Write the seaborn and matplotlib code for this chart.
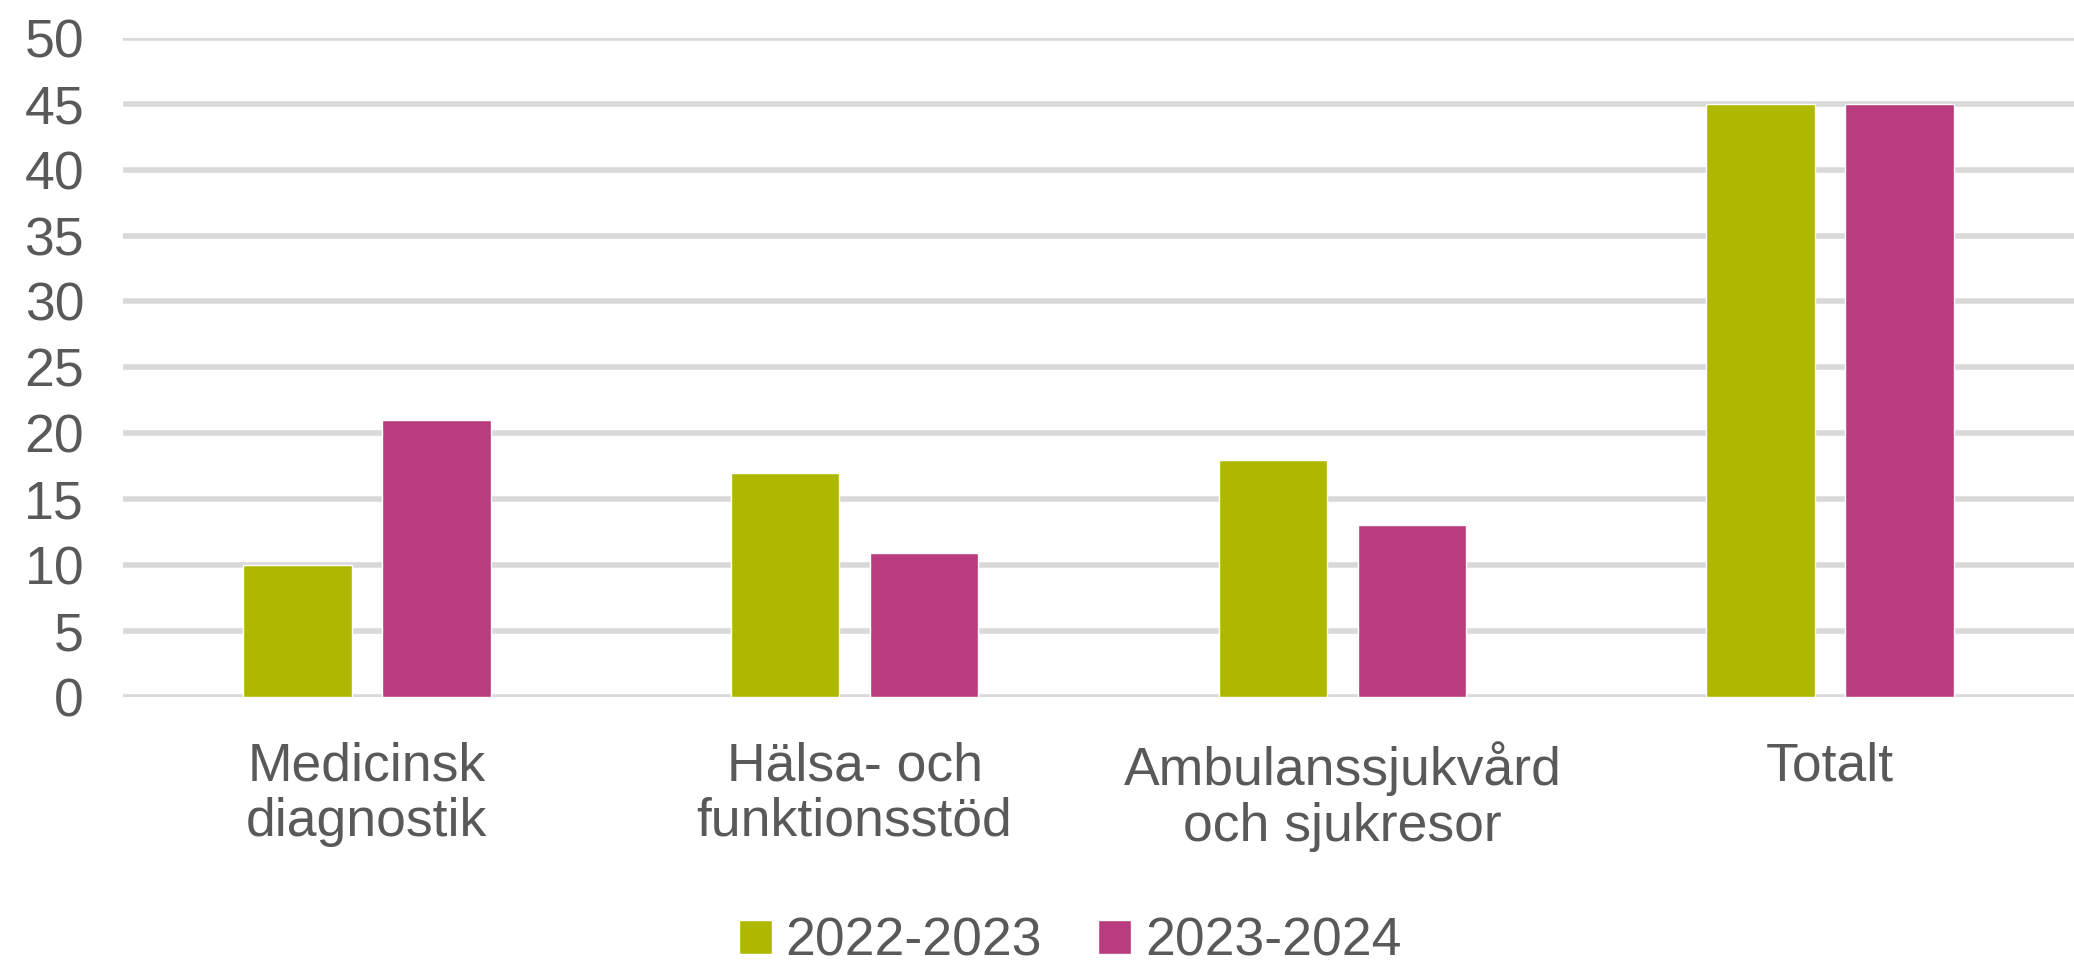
import matplotlib
matplotlib.use('Agg')
import matplotlib.pyplot as plt
import seaborn as sns
import pandas as pd

# Data
categories = ["Medicinsk\ndiagnostik", "Hälsa- och\nfunktionsstöd",
              "Ambulanssjukvård\noch sjukresor", "Totalt"]
periods = ["2022-2023", "2023-2024"]
values_2022 = [10, 17, 18, 45]
values_2023 = [21, 10.9, 13, 45]
colors = ["#AFB800", "#B83B7D"]
yticks = [0, 5, 10, 15, 20, 25, 30, 35, 40, 45, 50]

df = pd.DataFrame({
    "kategori": categories * 2,
    "period": [periods[0]] * 4 + [periods[1]] * 4,
    "varde": values_2022 + values_2023,
})

sns.set_style("white")
plt.rcParams['font.family'] = ['Liberation Sans', 'DejaVu Sans']
text_color = "#595959"
fsize = 38.5

fig = plt.figure(figsize=(20.74, 9.66), dpi=100)
ax = fig.add_axes([0.0593, 0.2788, 0.9407, 0.6819])

sns.barplot(data=df, x="kategori", y="varde", hue="period", palette=colors,
            width=0.57, gap=0.22, ax=ax, saturation=1, legend=True)

ax.set_ylim(0, 50)
ax.set_xlim(-0.5, 3.5)
ax.set_yticks(yticks)
ax.yaxis.grid(True, color="#D9D9D9", linewidth=4)
ax.set_axisbelow(True)
for s in ax.spines.values():
    s.set_visible(False)
ax.set_xlabel("")
ax.set_ylabel("")
ax.tick_params(axis="y", length=0, pad=28, labelsize=fsize, labelcolor=text_color)
ax.tick_params(axis="x", length=0, pad=32, labelsize=fsize, labelcolor=text_color)
for lbl in ax.get_xticklabels():
    lbl.set_linespacing(1.15)

leg = ax.legend(loc="center", bbox_to_anchor=(0.516, 0.025),
                bbox_transform=fig.transFigure, ncol=2, frameon=False,
                fontsize=fsize, handlelength=0.62, handleheight=0.62,
                handletextpad=0.25, columnspacing=1.05)
for t in leg.get_texts():
    t.set_color(text_color)

plt.savefig("out.png", dpi=100)
plt.close()
